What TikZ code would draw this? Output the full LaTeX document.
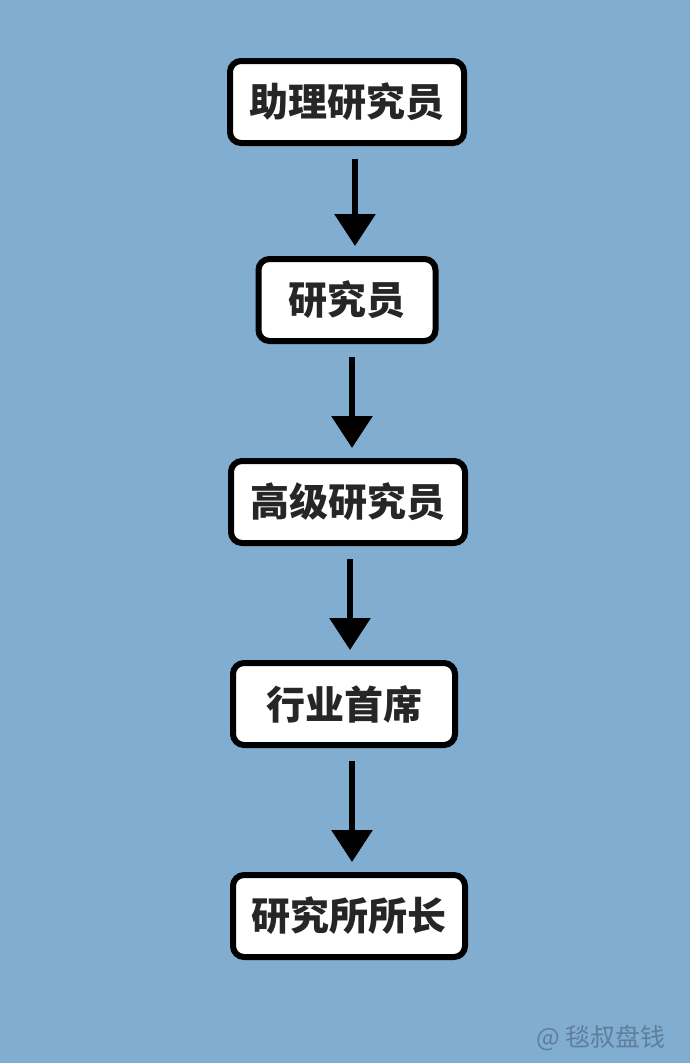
\documentclass[tikz,border=0pt]{standalone}
\usepackage{fontspec}
\newfontfamily\cjkheavy{Noto Sans CJK SC Black}
\newfontfamily\cjk{Noto Sans CJK SC}
\usetikzlibrary{arrows.meta}
\definecolor{bgblue}{RGB}{128,173,208}
\definecolor{txtgray}{RGB}{38,38,38}
\definecolor{markgray}{RGB}{96,126,156}

\begin{document}
\begin{tikzpicture}[x=1pt,y=-1pt,
    stage/.style={draw=black,line width=6pt,rounded corners=11pt,fill=white,
      minimum height=82pt,inner sep=0pt,text=txtgray,
      font=\cjkheavy\fontsize{39}{41}\selectfont},
    promote/.style={line width=6pt,-{Triangle[width=40pt,length=32pt]},
      shorten <=13pt,shorten >=10pt}]
  \fill[bgblue] (0,0) rectangle (690,1063);%背景
  \node[stage,minimum width=234pt] (zl) at (347,102) {助理研究员};
  \node[stage,minimum width=177pt] (yj) at (347,300) {研究员};
  \node[stage,minimum width=234pt] (gj) at (348,502) {高级研究员};
  \node[stage,minimum width=222pt] (sx) at (344,704) {行业首席};
  \node[stage,minimum width=232pt] (sz) at (349,916) {研究所所长};
  \draw[promote] ([xshift=8pt]zl.south) -- ([xshift=8pt]yj.north);
  \draw[promote] ([xshift=5pt]yj.south) -- ([xshift=4pt]gj.north);
  \draw[promote] ([xshift=2pt]gj.south) -- ([xshift=6pt]sx.north);
  \draw[promote] ([xshift=8pt]sx.south) -- ([xshift=3pt]sz.north);
  \node[text=markgray,font=\cjk\fontsize{25}{27}\selectfont] (mark) at (601,1038) {@ 毯叔盘钱};%水印
\end{tikzpicture}
\end{document}
